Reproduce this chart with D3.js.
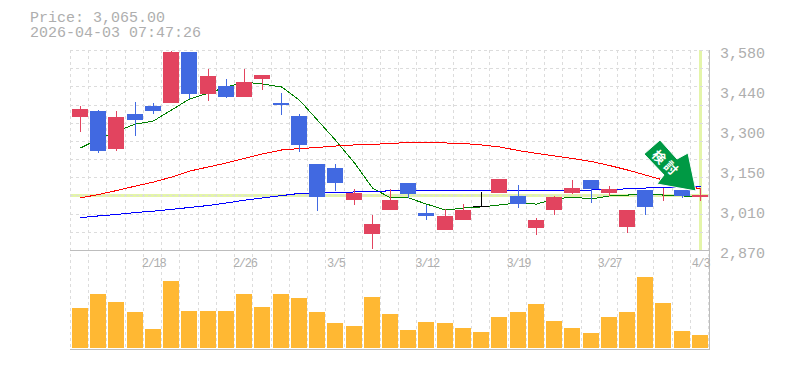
<!DOCTYPE html>
<html>
<head>
    <meta charset="utf-8" />
    <title>Price chart</title>
    <script src="https://cdn.jsdelivr.net/npm/d3@7"></script>
    <style>
        html, body { margin: 0; padding: 0; background: #fff; }
        svg { display: block; }
        text { font-family: "Liberation Mono", monospace; fill: #aeaeae; }
    </style>
</head>
<body>
    <script>
        let dates = ['2/12','2/13','2/16','2/17','2/18','2/19','2/20','2/24','2/25','2/26','2/27','3/2','3/3','3/4','3/5','3/6','3/9','3/10','3/11','3/12','3/13','3/16','3/17','3/18','3/19','3/23','3/24','3/25','3/26','3/27','3/30','3/31','4/1','4/2','4/3']
        let dateTicks = ['2/18','2/26','3/5','3/12','3/19','3/27','4/3']
        let priceTicks = [3580, 3438, 3296, 3154, 3012, 2870]

        let opens  = [3342,3363,3229,3353,3381,3392,3573,3424,3452,3413,3477,3392,3346,3175,3161,3047,2927,3012,3108,3001,2941,2976,3026,3072,3062,2948,3012,3072,3118,3072,2952,3083,null,3083,3058]
        let closes = [3371,3221,3342,3331,3363,3573,3424,3488,3413,3466,3491,3385,3243,3058,3108,3072,2962,3047,3069,2991,2991,3012,3026,3122,3033,2976,3058,3090,3087,3087,3012,3023,null,3062,3065]
        let highs  = [3381,3367,3363,3395,3392,3576,3573,3513,3477,3513,3491,3427,3353,3175,3175,3087,2994,3087,3108,3030,3016,3033,3076,3122,3101,2984,3062,3118,3118,3097,3012,3083,3090,3083,3090]
        let lows   = [3289,3214,3221,3275,3353,3392,3406,3399,3410,3413,3438,3349,3218,3008,3079,3030,2873,3012,3055,2976,2941,2976,3023,3072,3019,2923,2994,3069,3037,3062,2930,2994,3044,3055,3044]

        let maShort = [3232,3264,3292,3317,3328,3367,3406,3427,3449,3466,3459,3449,3402,3331,3260,3179,3090,3055,3055,3033,3012,3019,3023,3030,3037,3033,3051,3058,3051,3062,3065,3069,3065,3062,3058]
        let maMid   = [3055,3067,3081,3097,3111,3129,3150,3165,3179,3195,3211,3225,3230,3234,3239,3243,3245,3248,3252,3252,3250,3248,3243,3236,3223,3213,3204,3195,3184,3170,3154,3136,3118,3101,3087]
        let maLong  = [2985,2991,2996,3003,3008,3014,3021,3028,3037,3047,3055,3063,3071,3072,3074,3076,3078,3080,3080,3080,3080,3080,3080,3080,3080,3080,3080,3080,3083,3085,3087,3090,3092,3094,3094]

        let volumes = [41,55,47,37,20,68,38,38,38,55,42,55,51,37,26,23,52,35,19,27,26,21,17,32,37,45,28,21,16,32,37,72,46,18,14]

        let lastPrice = 3065
        let width = 785, height = 370
        let plot = { left: 70, right: 709, top: 50, mid: 250, bottom: 349 }

        let svg = d3.select('body')
                        .append('svg')
                        .attr('width', width)
                        .attr('height', height)

        let xScale = d3.scaleBand().domain(dates).range([plot.left, plot.left + 638.2])
        let yScale = d3.scaleLinear().domain([2870, 3580]).range([plot.mid, plot.top])
        let volScale = d3.scaleLinear().domain([0, 99]).range([plot.bottom, plot.mid])

        let barX = d => Math.round(xScale(d) + 2)
        let midX = d => barX(d) + 8
        let py = v => Math.round(yScale(v))

        // current price / latest day highlight
        let hi = svg.append('g').attr('fill', '#e4f5a9').attr('shape-rendering', 'crispEdges')
        hi.append('rect').attr('x', plot.left).attr('y', py(lastPrice) - 1).attr('width', plot.right - plot.left).attr('height', 3)
        hi.append('rect').attr('x', midX('4/3') - 1).attr('y', plot.top).attr('width', 3).attr('height', plot.mid - plot.top)

        // grid
        let grid = svg.append('g')
                        .attr('stroke', '#dcdcdc')
                        .attr('stroke-dasharray', '3 3')
                        .attr('shape-rendering', 'crispEdges')

        grid.selectAll('.v').data(d3.range(dates.length + 1)).join('line')
            .attr('x1', i => Math.round(plot.left + i * xScale.step()) + 0.5)
            .attr('x2', i => Math.round(plot.left + i * xScale.step()) + 0.5)
            .attr('y1', plot.top).attr('y2', plot.bottom)

        grid.selectAll('.h').data(d3.range(11)).join('line')
            .attr('x1', plot.left).attr('x2', plot.right)
            .attr('y1', i => Math.round(plot.top + i * 200 / 11) + 0.5)
            .attr('y2', i => Math.round(plot.top + i * 200 / 11) + 0.5)

        // moving averages
        let line = d3.line().x((v, i) => midX(dates[i]) + 0.5).y(v => yScale(v))
        let maColors = ['#008000', '#ff0000', '#0000ff']
        ;[maShort, maMid, maLong].forEach((ma, k) => {
            svg.append('path')
                .attr('d', line(ma))
                .attr('fill', 'none')
                .attr('stroke', maColors[k])
                .attr('stroke-width', 1)
                .attr('shape-rendering', 'crispEdges')
        })

        // candles
        let candleColor = i => {
            if (closes[i] === null || closes[i] > opens[i]) return '#e2445f'
            return closes[i] < opens[i] ? '#4169e1' : '#000'
        }
        let candles = svg.append('g').attr('shape-rendering', 'crispEdges')
        dates.forEach((d, i) => {
            let g = candles.append('g').attr('fill', candleColor(i))
            g.append('rect')
                .attr('x', midX(d)).attr('width', 1)
                .attr('y', py(highs[i])).attr('height', py(lows[i]) - py(highs[i]))
            if (opens[i] === null) return
            let top = py(Math.max(opens[i], closes[i])), bot = py(Math.min(opens[i], closes[i]))
            g.append('rect')
                .attr('x', barX(d)).attr('width', 16)
                .attr('y', top).attr('height', Math.max(bot - top, 1))
        })

        // volume
        svg.append('g').attr('fill', '#ffb833').attr('shape-rendering', 'crispEdges')
            .selectAll('rect').data(volumes).join('rect')
            .attr('x', (v, i) => barX(dates[i]))
            .attr('width', 16)
            .attr('y', v => Math.round(volScale(v)))
            .attr('height', v => plot.bottom - 1 - Math.round(volScale(v)))

        // frame
        let frame = svg.append('g').attr('stroke', '#bdbdbd').attr('shape-rendering', 'crispEdges')
        frame.append('line').attr('x1', plot.left).attr('x2', plot.right + 1).attr('y1', plot.mid + 0.5).attr('y2', plot.mid + 0.5)
        frame.append('line').attr('x1', plot.left).attr('x2', plot.right + 1).attr('y1', plot.bottom + 0.5).attr('y2', plot.bottom + 0.5)
        frame.append('line').attr('x1', plot.right + 0.5).attr('x2', plot.right + 0.5).attr('y1', plot.top).attr('y2', plot.bottom + 1)

        // axes
        let yAxis = d3.axisRight(yScale)
                        .tickValues(priceTicks)
                        .tickSize(0)
                        .tickPadding(0)
                        .tickFormat(v => d3.format(',')(Math.round(v / 10) * 10))
        svg.append('g')
            .attr('transform', `translate(720, 3)`)
            .call(yAxis)
            .call(g => g.select('.domain').remove())
            .selectAll('text')
            .style('font-family', '"Liberation Mono", monospace')
            .style('font-size', '15px')
            .attr('fill', '#aeaeae')

        let xAxis = d3.axisBottom(xScale)
                        .tickValues(dateTicks)
                        .tickSize(0)
                        .tickPadding(0)
        svg.append('g')
            .attr('transform', `translate(1.5, 256)`)
            .call(xAxis)
            .call(g => g.select('.domain').remove())
            .selectAll('text')
            .style('font-family', '"Liberation Mono", monospace')
            .style('font-size', '12px')
            .style('letter-spacing', '-1.3px')
            .attr('y', 2)
            .attr('dy', '0.71em')
            .attr('fill', '#aeaeae')

        // title
        svg.append('text').attr('x', 30).attr('y', 22).style('font-size', '15px').text('Price: 3,065.00')
        svg.append('text').attr('x', 30).attr('y', 37).style('font-size', '15px').text('2026-04-03 07:47:26')

        // signal arrow, tip sits just above the last candle
        let arrow = svg.append('g')
                        .attr('transform', `translate(${midX('4/3') - 4}, ${py(lastPrice) - 4})`)
        arrow.append('path')
            .attr('d', 'M-36,-51 L-52,-37 L-32,-16 L-39,-7 L0,0 L-8,-38 L-19,-32 Z')
            .attr('fill', '#009944')
            .attr('stroke', '#fff')
            .attr('stroke-width', 1)
        ;[['検', -37, -34], ['討', -25, -23]].forEach(t => {
            arrow.append('text')
                .attr('transform', `translate(${t[1]}, ${t[2]}) rotate(45)`)
                .attr('text-anchor', 'middle')
                .attr('dy', '0.36em')
                .style('font-family', '"Noto Sans CJK JP"')
                .style('font-weight', 'bold')
                .style('font-size', '13px')
                .style('fill', '#fff')
                .text(t[0])
        })
    </script>
</body>
</html>
